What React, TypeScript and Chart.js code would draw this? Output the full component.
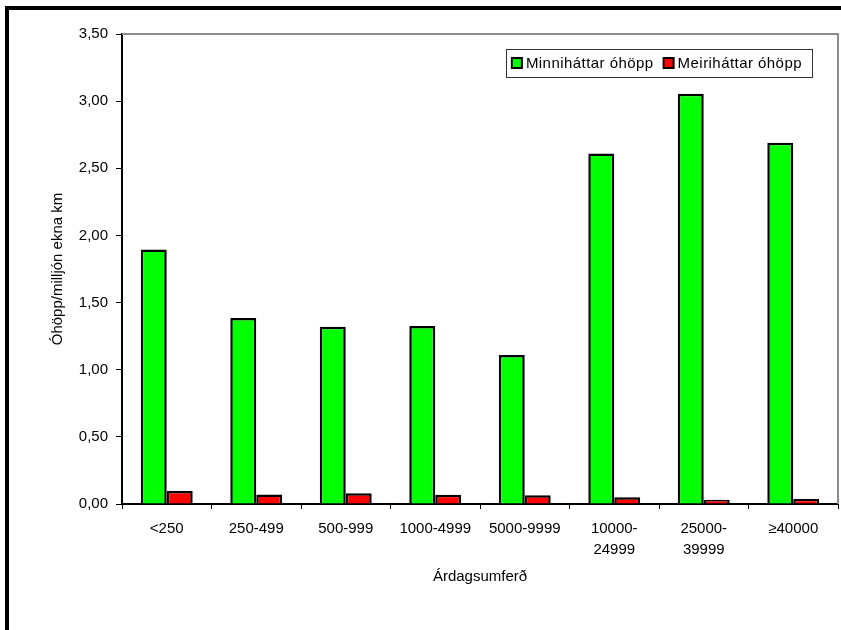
import React, { useEffect, useRef } from 'react';
import { Chart, registerables } from 'chart.js';

Chart.register(...registerables);

const categories: (string | string[])[] = [
  '<250',
  '250-499',
  '500-999',
  '1000-4999',
  '5000-9999',
  ['10000-', '24999'],
  ['25000-', '39999'],
  '≥40000',
];
const seriesNames = ['Minniháttar óhöpp', 'Meiriháttar óhöpp'];
const minorAccidents = [1.895, 1.385, 1.32, 1.325, 1.11, 2.61, 3.055, 2.69];
const majorAccidents = [0.097, 0.07, 0.08, 0.068, 0.065, 0.05, 0.032, 0.037];
const seriesColors = ['#00ff00', '#ff0000'];
const yMin = 0;
const yMax = 3.5;
const yStep = 0.5;
const xTitle = 'Árdagsumferð';
const yTitle = 'Óhöpp/milljón ekna km';

const FONT = 'Arial, "Liberation Sans", sans-serif';
const FONT_SIZE = 15;

const decorPlugin = {
  id: 'decor',
  beforeDatasetsDraw(chart: any) {
    const { ctx, chartArea } = chart;
    ctx.save();
    ctx.strokeStyle = '#8c8c8c';
    ctx.lineWidth = 2;
    ctx.beginPath();
    ctx.moveTo(chartArea.left, chartArea.top);
    ctx.lineTo(chartArea.right, chartArea.top);
    ctx.lineTo(chartArea.right, chartArea.bottom);
    ctx.stroke();
    ctx.restore();
  },
  afterDraw(chart: any) {
    const { ctx, chartArea, width, height } = chart;
    ctx.save();
    // outer frame (top and left)
    ctx.fillStyle = '#000';
    ctx.fillRect(5, 6, width - 5, 4);
    ctx.fillRect(5, 6, 4, height - 6);

    // legend
    ctx.font = `${FONT_SIZE}px ${FONT}`;
    try {
      (ctx as any).letterSpacing = '0.45px';
    } catch (e) {
      /* ignore */
    }
    const datasets = chart.data.datasets;
    const pad = 6;
    const box = 10;
    const gap = 4;
    const itemGap = 10;
    const widths = datasets.map((d: any) => ctx.measureText(d.label).width);
    let total = pad;
    widths.forEach((w: number, i: number) => {
      total += box + gap + w + (i < widths.length - 1 ? itemGap : 10);
    });
    const right = chartArea.right - 26;
    const top = chartArea.top + 15;
    const h = 28;
    const left = right - total;
    ctx.fillStyle = '#fff';
    ctx.fillRect(left, top, total, h);
    ctx.strokeStyle = '#333';
    ctx.lineWidth = 1;
    ctx.strokeRect(Math.round(left) + 0.5, top + 0.5, Math.round(total), h);
    let x = left + pad;
    const cy = top + h / 2;
    datasets.forEach((d: any, i: number) => {
      ctx.fillStyle = d.backgroundColor;
      ctx.fillRect(x, cy - box / 2, box, box);
      ctx.strokeStyle = '#000';
      ctx.lineWidth = 2;
      ctx.strokeRect(x, cy - box / 2, box, box);
      x += box + gap;
      ctx.fillStyle = '#000';
      ctx.textBaseline = 'middle';
      ctx.textAlign = 'left';
      ctx.fillText(d.label, x, cy + 1);
      x += widths[i] + itemGap;
    });
    ctx.restore();
  },
};

export default function App() {
  const ref = useRef<HTMLCanvasElement>(null);

  useEffect(() => {
    if (!ref.current) return;
    const chart = new Chart(ref.current, {
      type: 'bar',
      data: {
        labels: categories,
        datasets: [
          {
            label: seriesNames[0],
            data: minorAccidents,
            backgroundColor: seriesColors[0],
            borderColor: '#000',
            borderWidth: 2.5,
            categoryPercentage: 0.58,
            barPercentage: 1,
          },
          {
            label: seriesNames[1],
            data: majorAccidents,
            backgroundColor: seriesColors[1],
            borderColor: '#000',
            borderWidth: 2.5,
            categoryPercentage: 0.58,
            barPercentage: 1,
          },
        ],
      },
      options: {
        responsive: false,
        animation: false,
        layout: { padding: { top: 34, right: 3, bottom: 0, left: 0 } },
        plugins: {
          legend: { display: false },
          tooltip: { enabled: false },
        },
        scales: {
          x: {
            offset: true,
            border: { display: true, color: '#000', width: 2 },
            grid: {
              offset: true,
              drawOnChartArea: false,
              drawTicks: true,
              tickLength: 5,
              color: '#000',
              lineWidth: 1,
            },
            ticks: {
              color: '#000',
              font: { family: FONT, size: FONT_SIZE, lineHeight: 1.4 },
              maxRotation: 0,
              autoSkip: false,
              padding: 9,
            },
            title: {
              display: true,
              text: xTitle,
              color: '#000',
              font: { family: FONT, size: FONT_SIZE },
              padding: { top: 0, bottom: 44 },
            },
            afterFit(scale: any) {
              scale.height = 126;
            },
          },
          y: {
            min: yMin,
            max: yMax,
            border: { display: true, color: '#000', width: 2 },
            grid: {
              drawOnChartArea: false,
              drawTicks: true,
              tickLength: 6,
              color: '#000',
              lineWidth: 1,
            },
            ticks: {
              stepSize: yStep,
              color: '#000',
              padding: 8,
              font: { family: FONT, size: FONT_SIZE },
              callback: (v: any) => Number(v).toFixed(2).replace('.', ','),
            },
            title: {
              display: true,
              text: yTitle,
              color: '#000',
              font: { family: FONT, size: FONT_SIZE },
              padding: { top: 49, bottom: 0 },
            },
            afterFit(scale: any) {
              scale.width = 122;
            },
          },
        },
      },
      plugins: [decorPlugin],
    });
    return () => chart.destroy();
  }, []);

  return (
    <div style={{ position: 'fixed', left: 0, top: 0, width: 841, height: 630, background: '#fff' }}>
      <canvas ref={ref} width={841} height={630} style={{ width: 841, height: 630 }} />
    </div>
  );
}
